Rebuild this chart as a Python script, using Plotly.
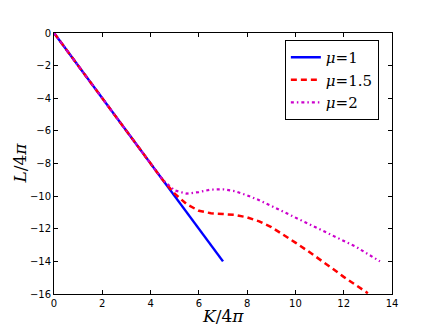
import plotly.graph_objects as go

# values
k_mu1 = [0, 7]
l_mu1 = [0, -14]

k_mu15 = [0, 1, 2, 3, 4, 4.5, 5, 5.5, 6, 6.5, 7, 7.5, 8, 8.5, 9, 9.5, 10,
          10.5, 11, 11.5, 12, 12.5, 13]
l_mu15 = [0, -2, -4, -6, -8, -9, -9.85, -10.5, -10.9, -11.05, -11.1, -11.15,
          -11.3, -11.55, -11.9, -12.35, -12.85, -13.35, -13.85, -14.4, -14.95,
          -15.45, -15.95]

k_mu2 = [0, 1, 2, 3, 4, 4.5, 5, 5.5, 6, 6.5, 7, 7.5, 8, 8.5, 9, 9.5, 10,
         10.5, 11, 11.5, 12, 12.5, 13, 13.5]
l_mu2 = [0, -2, -4, -6, -8, -9, -9.65, -9.85, -9.75, -9.6, -9.58, -9.7,
         -9.95, -10.25, -10.6, -10.95, -11.3, -11.65, -12.0, -12.35, -12.7,
         -13.1, -13.55, -14.0]

names = ["<i>μ</i>=1", "<i>μ</i>=1.5", "<i>μ</i>=2"]
x_title = "<i>K</i>/4<i>π</i>"
y_title = "<i>L</i>/4<i>π</i>"

fig = go.Figure()
fig.add_trace(go.Scatter(x=k_mu1, y=l_mu1, mode="lines", name=names[0],
                         line=dict(color="#0000ff", width=2.5)))
fig.add_trace(go.Scatter(x=k_mu15, y=l_mu15, mode="lines", name=names[1],
                         line=dict(color="#ff0000", width=2.5, dash="6px,4px")))
fig.add_trace(go.Scatter(x=k_mu2, y=l_mu2, mode="lines", name=names[2],
                         line=dict(color="#cc00cc", width=2.2,
                                   dash="3px,3px,1.5px,3px")))

axis = dict(showline=True, linecolor="black", linewidth=1, mirror="ticks",
            ticks="inside", ticklen=4, tickcolor="black", showgrid=False,
            zeroline=False, automargin=False,
            tickfont=dict(family="DejaVu Sans", size=10, color="black"))

title_font = dict(family="DejaVu Serif", size=17, color="black")

# the page body adds an 8px offset at top/left, so shrink the figure by 8px
fig.update_layout(
    width=428, height=319,
    margin=dict(l=46, r=44, t=25, b=33),
    paper_bgcolor="white", plot_bgcolor="white",
    xaxis=dict(axis, range=[0, 14], dtick=2),
    yaxis=dict(axis, range=[-16, 0], dtick=2, tickformat="d"),
    legend=dict(x=0.683, y=0.973, xanchor="left", yanchor="top",
                bordercolor="black", borderwidth=1, bgcolor="white",
                font=dict(family="DejaVu Serif", size=15, color="black"),
                itemwidth=30, tracegroupgap=0),
    annotations=[
        dict(text=x_title, xref="paper", yref="paper", x=0.5, y=-0.038,
             xanchor="center", yanchor="top", showarrow=False,
             font=title_font),
        dict(text=y_title, xref="paper", yref="paper", x=-0.068, y=0.5,
             xanchor="right", yanchor="middle", showarrow=False,
             textangle=-90, font=title_font),
    ],
)

fig.write_html("out.html")
